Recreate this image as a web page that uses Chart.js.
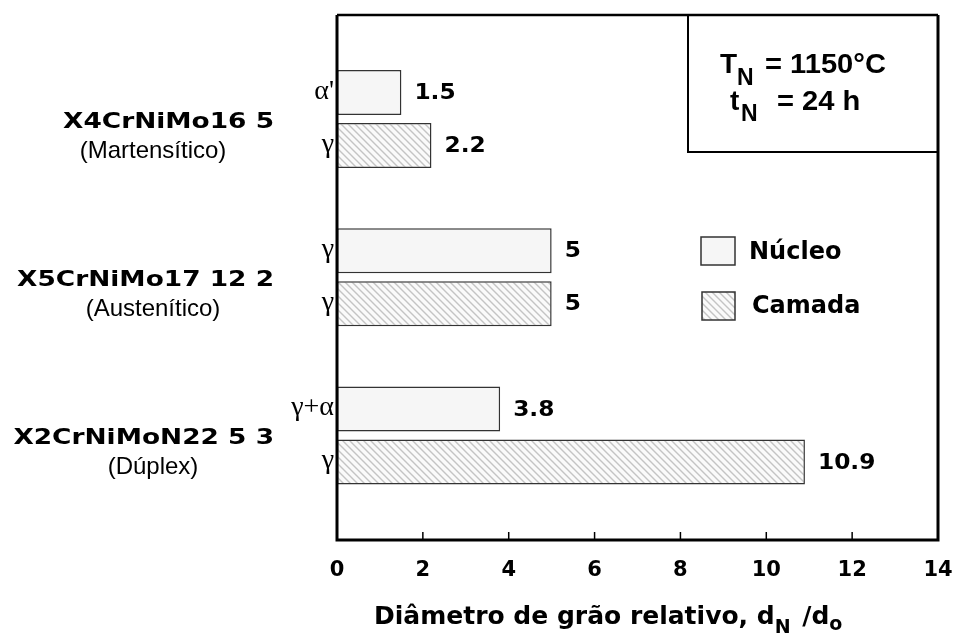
<!DOCTYPE html>
<html>
<head>
<meta charset="utf-8">
<script src="https://cdn.jsdelivr.net/npm/chart.js@4.4.1/dist/chart.umd.min.js"></script>
<style>
  body { margin: 0; background: #fff; }
  #wrap { width: 954px; height: 635px; }
</style>
</head>
<body>
<div id="wrap"><canvas id="grainChart" width="954" height="635"></canvas></div>
<script>
// Data
const alloys = ['X4CrNiMo16 5', 'X5CrNiMo17 12 2', 'X2CrNiMoN22 5 3'];
const structures = ['(Martensítico)', '(Austenítico)', '(Dúplex)'];
const nucleoValues = [1.5, 5, 3.8];
const camadaValues = [2.2, 5, 10.9];
const nucleoPhases = ["α'", 'γ', 'γ+α'];
const camadaPhases = ['γ', 'γ', 'γ'];
const xTicks = [0, 2, 4, 6, 8, 10, 12, 14];

const BOLD = '"DejaVu Sans", sans-serif';
const HELV = '"Liberation Sans", Arial, sans-serif';

// diagonal hatch for "Camada"
function makeHatch() {
    const c = document.createElement('canvas');
    c.width = 7; c.height = 7;
    const g = c.getContext('2d');
    g.fillStyle = '#fafafa';
    g.fillRect(0, 0, 7, 7);
    g.strokeStyle = '#c4c4c4';
    g.lineWidth = 1.4;
    g.beginPath();
    g.moveTo(-1, -1); g.lineTo(8, 8);
    g.moveTo(-1, 6); g.lineTo(1, 8);
    g.moveTo(6, -1); g.lineTo(8, 1);
    g.stroke();
    return g.createPattern(c, 'repeat');
}
const hatch = makeHatch();
const plain = '#f6f6f6';

// text stretched horizontally to match the wide original lettering
function wideText(ctx, text, x, y, sx) {
    ctx.save();
    ctx.translate(x, y);
    ctx.scale(sx, 1);
    ctx.fillText(text, 0, 0);
    ctx.restore();
}

const decorPlugin = {
    id: 'decor',
    afterDraw(chart) {
        const ctx = chart.ctx;
        const a = chart.chartArea;
        const xs = chart.scales.x;
        ctx.save();

        // frame
        ctx.strokeStyle = '#000';
        ctx.lineWidth = 3;
        ctx.beginPath();
        ctx.moveTo(a.left, a.top); ctx.lineTo(a.left, a.bottom); ctx.lineTo(a.right, a.bottom); ctx.lineTo(a.right, a.top);
        ctx.stroke();
        ctx.lineWidth = 2.5;
        ctx.beginPath();
        ctx.moveTo(a.left, a.top); ctx.lineTo(a.right, a.top);
        ctx.stroke();

        // inward tick marks
        ctx.lineWidth = 1.5;
        xTicks.slice(1, -1).forEach(t => {
            const px = xs.getPixelForValue(t);
            ctx.beginPath();
            ctx.moveTo(px, a.bottom); ctx.lineTo(px, a.bottom - 8);
            ctx.stroke();
        });

        // info box
        ctx.lineWidth = 2;
        ctx.beginPath();
        ctx.moveTo(688, a.top); ctx.lineTo(688, 152); ctx.lineTo(a.right, 152);
        ctx.stroke();
        ctx.fillStyle = '#000';
        ctx.textBaseline = 'alphabetic';
        ctx.textAlign = 'left';
        ctx.font = 'bold 28px ' + HELV;
        ctx.fillText('T', 720, 73);
        wideText(ctx, '= 1150°C', 765, 73, 1.04);
        ctx.fillText('t', 730, 110);
        wideText(ctx, '= 24 h', 777, 110, 1.04);
        ctx.font = 'bold 23px ' + HELV;
        ctx.fillText('N', 737, 85);
        ctx.fillText('N', 741, 121);

        // legend
        ctx.lineWidth = 1.5;
        ctx.strokeStyle = '#333';
        ctx.fillStyle = plain;
        ctx.fillRect(701, 237, 34, 28);
        ctx.strokeRect(701, 237, 34, 28);
        ctx.fillStyle = hatch;
        ctx.fillRect(702, 292, 33, 28);
        ctx.strokeRect(702, 292, 33, 28);
        ctx.fillStyle = '#000';
        ctx.font = 'bold 24px ' + BOLD;
        ctx.textBaseline = 'middle';
        ctx.fillText('Núcleo', 749, 253);
        ctx.fillText('Camada', 752, 307);

        // value labels and phase labels from bar elements
        const sets = [
            { meta: chart.getDatasetMeta(0), vals: nucleoValues, phases: nucleoPhases },
            { meta: chart.getDatasetMeta(1), vals: camadaValues, phases: camadaPhases }
        ];
        sets.forEach(s => {
            s.meta.data.forEach((bar, i) => {
                ctx.font = 'bold 22px ' + BOLD;
                ctx.textAlign = 'left';
                ctx.textBaseline = 'middle';
                wideText(ctx, String(s.vals[i]), bar.x + 13, bar.y + 1, 1.06);
                ctx.font = '28px "Liberation Serif", "DejaVu Serif", serif';
                ctx.textAlign = 'right';
                ctx.fillText(s.phases[i], a.left - 3, bar.y - 1);
            });
        });

        // alloy labels on the left
        const ys = chart.scales.y;
        alloys.forEach((name, i) => {
            const cy = ys.getPixelForValue(i);
            ctx.textBaseline = 'middle';
            ctx.textAlign = 'right';
            ctx.font = 'bold 22px ' + BOLD;
            wideText(ctx, name, 274, cy + 3, 1.2);
            ctx.textAlign = 'center';
            ctx.font = '24px ' + HELV;
            ctx.fillText(structures[i], 153, cy + 32);
        });

        // x axis title with subscripts
        ctx.textAlign = 'left';
        ctx.textBaseline = 'alphabetic';
        let x = 374;
        const base = 624;
        const parts = [
            ['Diâmetro de grão relativo, d', 'bold 25px ' + BOLD, 0],
            ['N', 'bold 19px ' + BOLD, 9],
            [' /d', 'bold 25px ' + BOLD, 0],
            ['o', 'bold 19px ' + BOLD, 6]
        ];
        parts.forEach(p => {
            ctx.font = p[1];
            ctx.fillText(p[0], x, base + p[2]);
            x += ctx.measureText(p[0]).width + (p[0] === 'N' ? 3 : 0);
        });

        ctx.restore();
    }
};

new Chart(document.getElementById('grainChart'), {
    type: 'bar',
    data: {
        datasets: [
            {
                label: 'Núcleo',
                data: nucleoValues.map((v, i) => ({ x: v, y: i })),
                backgroundColor: plain,
                borderColor: '#333',
                borderWidth: 1.5,
                borderSkipped: false
            },
            {
                label: 'Camada',
                data: camadaValues.map((v, i) => ({ x: v, y: i })),
                backgroundColor: hatch,
                borderColor: '#333',
                borderWidth: 1.5,
                borderSkipped: false
            }
        ]
    },
    options: {
        indexAxis: 'y',
        responsive: false,
        animation: false,
        categoryPercentage: 0.67,
        barPercentage: 0.85,
        layout: { padding: { left: 337, right: 16, top: 15, bottom: 0 } },
        plugins: { legend: { display: false }, tooltip: { enabled: false } },
        scales: {
            y: {
                type: 'linear',
                reverse: true,
                offset: false,
                min: -0.657,
                max: 2.66,
                display: false,
                afterBuildTicks(scale) {
                    scale.ticks = alloys.map((_, i) => ({ value: i }));
                }
            },
            x: {
                type: 'linear',
                min: 0,
                max: 14,
                grid: { display: false, drawTicks: false },
                border: { display: false },
                ticks: {
                    stepSize: 2,
                    padding: 18,
                    color: '#000',
                    font: { family: 'DejaVu Sans', weight: 'bold', size: 21 }
                },
                afterFit(scale) {
                    scale.height = 95;
                    scale.paddingLeft = 0;
                    scale.paddingRight = 0;
                }
            }
        }
    },
    plugins: [decorPlugin]
});
</script>
</body>
</html>
